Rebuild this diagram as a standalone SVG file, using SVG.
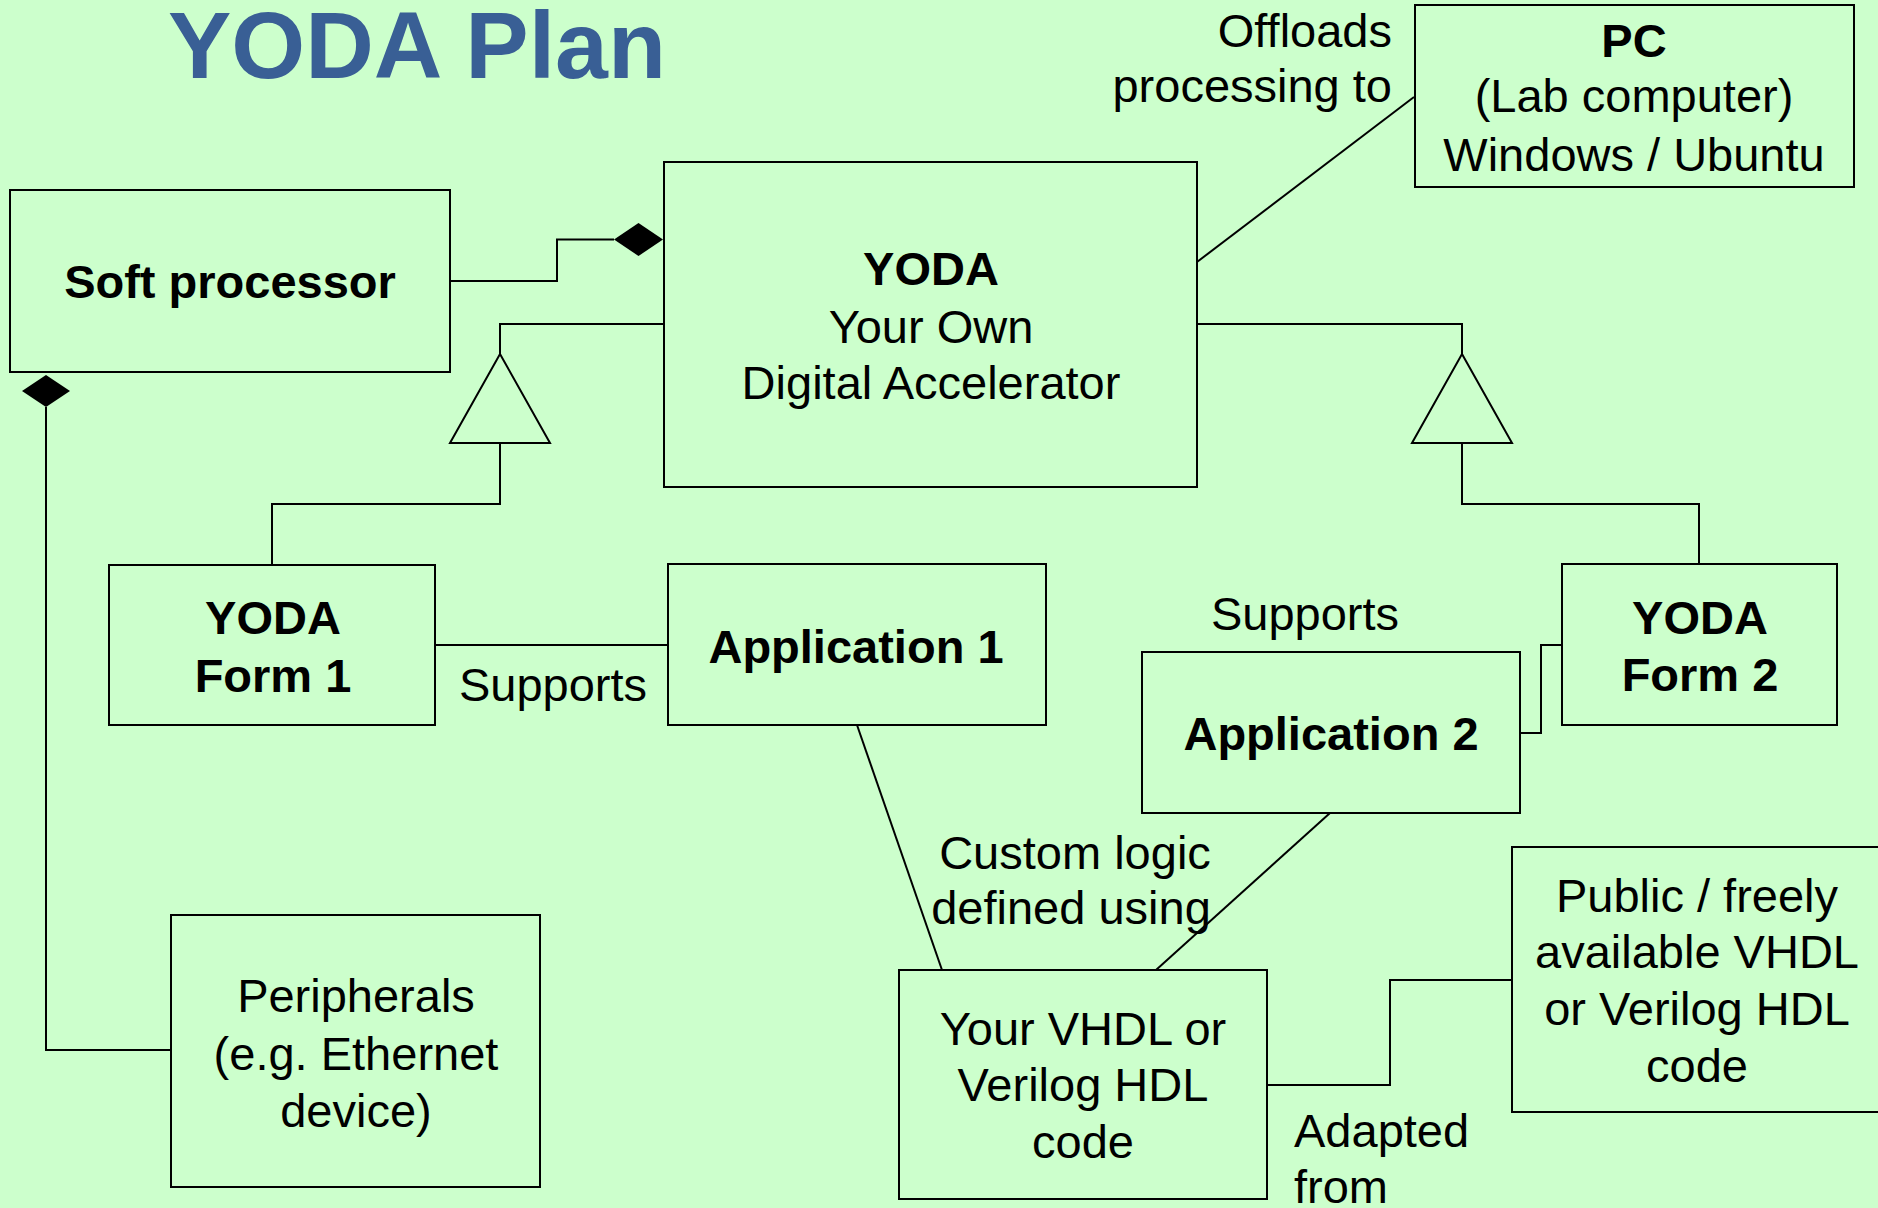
<svg xmlns="http://www.w3.org/2000/svg" width="1878" height="1208" viewBox="0 0 1878 1208">
  <style>
    .box { fill: #CCFFCC; stroke: #000; stroke-width: 2; }
    .wire { fill: none; stroke: #000; stroke-width: 2; }
    .tri { fill: #CCFFCC; stroke: #000; stroke-width: 2; stroke-linejoin: miter; }
    .dia { fill: #000; stroke: none; }
    .t { font-family: "Liberation Sans", Arial, sans-serif; font-size: 47px; fill: #000; text-anchor: middle; }
    .b { font-weight: bold; }
    .l { text-anchor: start; }
    .r { text-anchor: end; }
    .title { font-family: "Liberation Sans", Arial, sans-serif; font-size: 95px; font-weight: bold; fill: #395F95; }
  </style>

  <rect width="1878" height="1208" fill="#CCFFCC"/>

  <text class="title" x="168" y="78">YODA Plan</text>

  <!-- connectors -->
  <g id="connectors">
    <!-- soft processor composed into YODA -->
    <polyline class="wire" points="450,281 557,281 557,239.5 614,239.5"/>
    <polygon class="dia" points="614,239.5 638.5,223 663,239.5 638.5,256"/>
    <!-- peripherals composed into soft processor -->
    <polyline class="wire" points="46,407 46,1050 171,1050"/>
    <polygon class="dia" points="46,375 70,391 46,407 22,391"/>
    <!-- YODA offloads to PC -->
    <line class="wire" x1="1197" y1="262" x2="1414" y2="97"/>
    <!-- generalisation: Form 1 -->
    <polyline class="wire" points="664,324 500,324 500,354"/>
    <polygon class="tri" points="500,354 550,443 450,443"/>
    <polyline class="wire" points="500,443 500,504 272,504 272,565"/>
    <!-- generalisation: Form 2 -->
    <polyline class="wire" points="1197,324 1462,324 1462,354"/>
    <polygon class="tri" points="1462,354 1512,443 1412,443"/>
    <polyline class="wire" points="1462,443 1462,504 1699,504 1699,564"/>
    <!-- supports -->
    <line class="wire" x1="435" y1="645" x2="668" y2="645"/>
    <polyline class="wire" points="1520,733 1541,733 1541,645 1562,645"/>
    <!-- custom logic -->
    <line class="wire" x1="857" y1="725" x2="942" y2="970"/>
    <line class="wire" x1="1330" y1="813" x2="1156" y2="970"/>
    <!-- adapted from -->
    <polyline class="wire" points="1267,1085 1390,1085 1390,980 1512,980"/>
  </g>

  <!-- connector labels -->
  <g id="labels">
    <text class="t r" x="1392" y="47">Offloads</text>
    <text class="t r" x="1392" y="102">processing to</text>
    <text class="t" x="553" y="701">Supports</text>
    <text class="t" x="1305" y="630">Supports</text>
    <text class="t" x="1075" y="869">Custom logic</text>
    <text class="t" x="1071" y="924">defined using</text>
    <text class="t l" x="1294" y="1147">Adapted</text>
    <text class="t l" x="1294" y="1203">from</text>
  </g>

  <g id="soft-processor">
    <rect class="box" x="10" y="190" width="440" height="182"/>
    <text class="t b" x="230" y="298" font-size="46">Soft processor</text>
  </g>

  <g id="yoda">
    <rect class="box" x="664" y="162" width="533" height="325"/>
    <text class="t b" x="931" y="285">YODA</text>
    <text class="t" x="931" y="343">Your Own</text>
    <text class="t" x="931" y="399">Digital Accelerator</text>
  </g>

  <g id="pc">
    <rect class="box" x="1415" y="5" width="439" height="182"/>
    <text class="t b" x="1634" y="57">PC</text>
    <text class="t" x="1634" y="112">(Lab computer)</text>
    <text class="t" x="1634" y="171">Windows / Ubuntu</text>
  </g>

  <g id="yoda-form-1">
    <rect class="box" x="109" y="565" width="326" height="160"/>
    <text class="t b" x="273" y="634">YODA</text>
    <text class="t b" x="273" y="692">Form 1</text>
  </g>

  <g id="application-1">
    <rect class="box" x="668" y="564" width="378" height="161"/>
    <text class="t b" x="856" y="663">Application 1</text>
  </g>

  <g id="application-2">
    <rect class="box" x="1142" y="652" width="378" height="161"/>
    <text class="t b" x="1331" y="750">Application 2</text>
  </g>

  <g id="yoda-form-2">
    <rect class="box" x="1562" y="564" width="275" height="161"/>
    <text class="t b" x="1700" y="634">YODA</text>
    <text class="t b" x="1700" y="691">Form 2</text>
  </g>

  <g id="peripherals">
    <rect class="box" x="171" y="915" width="369" height="272"/>
    <text class="t" x="356" y="1012">Peripherals</text>
    <text class="t" x="356" y="1070">(e.g. Ethernet</text>
    <text class="t" x="356" y="1127">device)</text>
  </g>

  <g id="hdl-code">
    <rect class="box" x="899" y="970" width="368" height="229"/>
    <text class="t" x="1083" y="1045">Your VHDL or</text>
    <text class="t" x="1083" y="1101">Verilog HDL</text>
    <text class="t" x="1083" y="1158">code</text>
  </g>

  <g id="public-hdl">
    <rect class="box" x="1512" y="847" width="400" height="265"/>
    <text class="t" x="1697" y="912">Public / freely</text>
    <text class="t" x="1697" y="968">available VHDL</text>
    <text class="t" x="1697" y="1025">or Verilog HDL</text>
    <text class="t" x="1697" y="1082">code</text>
  </g>
</svg>
